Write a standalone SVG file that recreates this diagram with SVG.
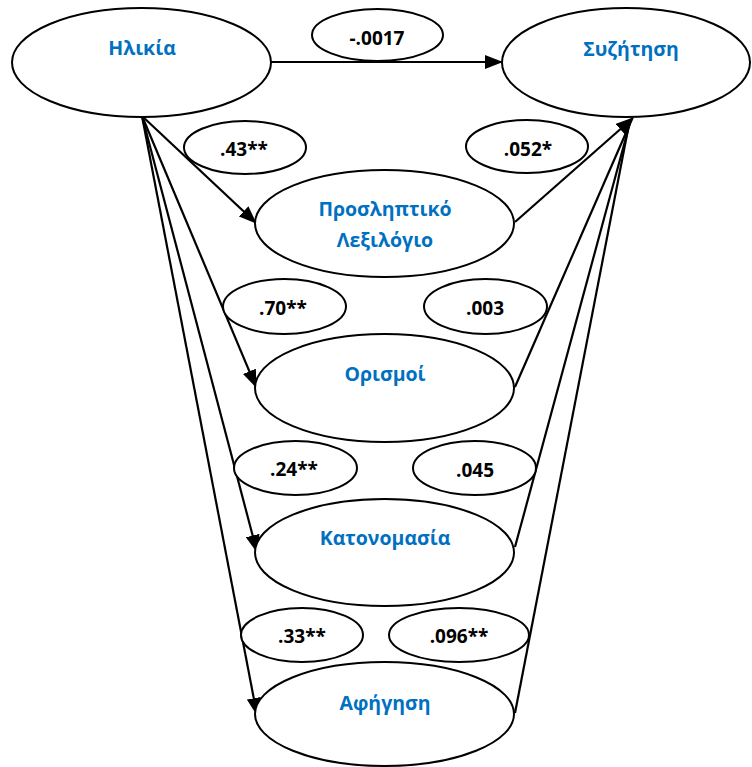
<svg xmlns="http://www.w3.org/2000/svg" width="752" height="767" viewBox="0 0 752 767">
<style>
.n{fill:#fff;stroke:#000;stroke-width:2}
.t{font-family:"Open Sans","Noto Sans","DejaVu Sans",sans-serif;font-weight:700;font-size:19.5px;fill:#0070C0;text-anchor:middle}
.l{font-family:"Open Sans","Noto Sans","DejaVu Sans",sans-serif;font-weight:700;font-size:19px;fill:#000;text-anchor:middle}
.c{fill:none;stroke:#000;stroke-width:2.2}
</style>
<defs>
<marker id="a" markerUnits="userSpaceOnUse" markerWidth="18" markerHeight="14" refX="17" refY="7" orient="auto">
<path d="M0,0 L18,7 L0,14 Z" fill="#000"/>
</marker>
</defs>
<g id="connectors">
<line class="c" x1="271" y1="62" x2="502" y2="62" marker-end="url(#a)"/>
<line class="c" x1="142" y1="116" x2="256" y2="223" marker-end="url(#a)"/>
<line class="c" x1="142" y1="116" x2="256" y2="387" marker-end="url(#a)"/>
<line class="c" x1="142" y1="116" x2="257" y2="552" marker-end="url(#a)"/>
<line class="c" x1="142" y1="116" x2="257" y2="715" marker-end="url(#a)"/>
<line class="c" x1="515" y1="222" x2="633" y2="118" marker-end="url(#a)"/>
<line class="c" x1="515" y1="387" x2="632" y2="119"/>
<line class="c" x1="515" y1="547" x2="631" y2="119"/>
<line class="c" x1="515" y1="713" x2="630" y2="119"/>
</g>
<g id="n-age"><ellipse class="n" cx="141.5" cy="62.5" rx="129.5" ry="54.5"/><text class="t" x="142" y="55">Ηλικία</text></g>
<g id="n-discussion"><ellipse class="n" cx="626" cy="62.5" rx="124" ry="54.5"/><text class="t" x="631" y="56">Συζήτηση</text></g>
<g id="n-vocab"><ellipse class="n" cx="384.5" cy="223.5" rx="129.5" ry="53.5"/><text class="t" x="385" y="216">Προσληπτικό</text><text class="t" x="385" y="247">Λεξιλόγιο</text></g>
<g id="n-def"><ellipse class="n" cx="384.5" cy="388" rx="129.5" ry="54"/><text class="t" x="385" y="381">Ορισμοί</text></g>
<g id="n-naming"><ellipse class="n" cx="384.5" cy="552.5" rx="129.5" ry="53.5"/><text class="t" x="385" y="545">Κατονομασία</text></g>
<g id="n-narr"><ellipse class="n" cx="384.5" cy="714" rx="129.5" ry="52"/><text class="t" x="385" y="710">Αφήγηση</text></g>
<g id="l1"><ellipse class="n" cx="377.5" cy="35" rx="65.5" ry="26"/><text class="l" x="377" y="45">-.0017</text></g>
<g id="l2"><ellipse class="n" cx="245" cy="147.5" rx="61" ry="26.5"/><text class="l" x="244" y="156">.43**</text></g>
<g id="l3"><ellipse class="n" cx="527" cy="146.5" rx="61" ry="26.5"/><text class="l" x="528" y="156">.052*</text></g>
<g id="l4"><ellipse class="n" cx="284.5" cy="306.5" rx="61.5" ry="27.5"/><text class="l" x="283" y="315">.70**</text></g>
<g id="l5"><ellipse class="n" cx="485.5" cy="306.5" rx="61.5" ry="27.5"/><text class="l" x="485" y="315">.003</text></g>
<g id="l6"><ellipse class="n" cx="295.5" cy="468" rx="61.5" ry="27"/><text class="l" x="294" y="476">.24**</text></g>
<g id="l7"><ellipse class="n" cx="474.5" cy="468" rx="61.5" ry="27"/><text class="l" x="475" y="477">.045</text></g>
<g id="l8"><ellipse class="n" cx="302" cy="635" rx="61" ry="27"/><text class="l" x="302" y="643">.33**</text></g>
<g id="l9"><ellipse class="n" cx="459" cy="635" rx="70" ry="27"/><text class="l" x="459" y="643">.096**</text></g>
</svg>
